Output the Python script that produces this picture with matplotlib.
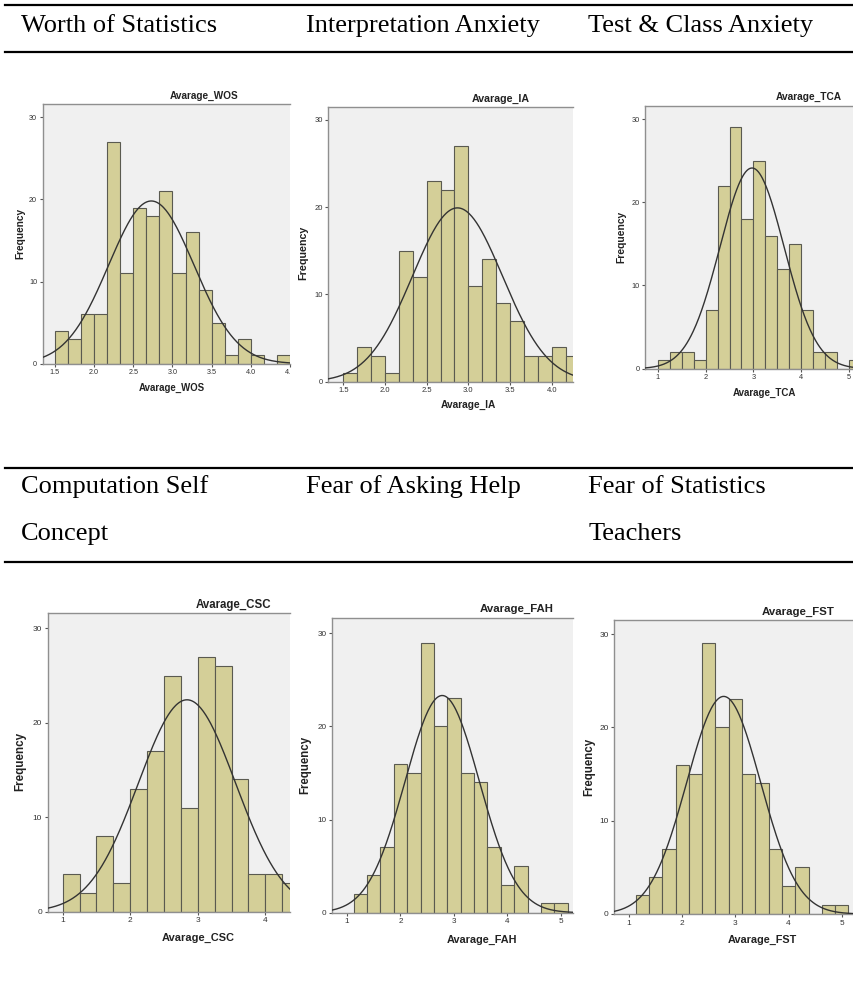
"""Histograms of six statistics-anxiety subscales with fitted normal curves."""

import numpy as np
import matplotlib
matplotlib.use("Agg")
import matplotlib.pyplot as plt
from matplotlib.transforms import Bbox

W, H = 854, 1007

# header cells of the table (row 1 and row 2, possibly wrapped)
headers_row1 = ["Worth of Statistics", "Interpretation Anxiety", "Test & Class Anxiety"]
headers_row2 = [["Computation Self", "Concept"], ["Fear of Asking Help"],
                ["Fear of Statistics", "Teachers"]]

names = ["Avarage_WOS", "Avarage_IA", "Avarage_TCA",
         "Avarage_CSC", "Avarage_FAH", "Avarage_FST"]

# bar heights
wos_counts = [4, 3, 6, 6, 27, 11, 19, 18, 21, 11, 16, 9, 5, 1, 3, 1, 0, 1]
ia_counts = [1, 4, 3, 1, 15, 12, 23, 22, 27, 11, 14, 9, 7, 3, 3, 4, 3]
tca_counts = [1, 2, 2, 1, 7, 22, 29, 18, 25, 16, 12, 15, 7, 2, 2, 0, 1]
csc_counts = [4, 2, 8, 3, 13, 17, 25, 11, 27, 26, 14, 4, 4, 3]
fah_counts = [2, 4, 7, 16, 15, 29, 20, 23, 15, 14, 7, 3, 5, 0, 1, 1]
fst_counts = [2, 4, 7, 16, 15, 29, 20, 23, 15, 14, 7, 3, 5, 0, 1, 1]
all_counts = [wos_counts, ia_counts, tca_counts, csc_counts, fah_counts, fst_counts]

bin_start = [1.5, 1.5, 1.0, 1.0, 1.125, 1.125]
bin_width = [1 / 6, 1 / 6, 0.25, 0.25, 0.25, 0.25]

# fitted normal curve parameters
means = [2.73, 2.87, 2.97, 2.84, 2.78, 2.78]
sds = [0.544, 0.541, 0.67, 0.72, 0.693, 0.693]
n_cases = 162

x_ticks = [[1.5, 2.0, 2.5, 3.0, 3.5, 4.0, 4.5],
           [1.5, 2.0, 2.5, 3.0, 3.5, 4.0],
           [1, 2, 3, 4, 5],
           [1, 2, 3, 4],
           [1, 2, 3, 4, 5],
           [1, 2, 3, 4, 5]]
x_ticklabels = [["1.5", "2.0", "2.5", "3.0", "3.5", "4.0", "4.5"],
                ["1.5", "2.0", "2.5", "3.0", "3.5", "4.0"],
                ["1", "2", "3", "4", "5"],
                ["1", "2", "3", "4"],
                ["1", "2", "3", "4", "5"],
                ["1", "2", "3", "4", "5"]]
y_ticks = [0, 10, 20, 30]

# layout in pixels: axes box, x range, title / xlabel / ylabel anchors
boxes = [(42.7, 104, 290, 363.7), (328.3, 106.7, 573.3, 381.7), (645, 105.7, 854, 368.7),
         (47.7, 613.3, 290, 911.7), (332.3, 618.3, 572.7, 912.7), (614.3, 620, 854, 914)]
xlims = [(1.344, 4.5), (1.32, 4.26), (0.735, 5.1),
         (0.778, 4.365), (0.725, 5.22), (0.724, 5.23)]
ytops = [31.6, 31.5, 31.6, 31.6, 31.6, 31.5]
title_pos = [(204, 96), (500.7, 99.3), (809, 97.3), (233.3, 605), (516.7, 609), (797.7, 611.7)]
xlabel_pos = [(172, 388), (468.3, 405), (764.3, 393.3), (198.3, 938.3), (481.7, 940), (762.3, 940)]
ylabel_pos = [(20, 233), (303.3, 253), (621.7, 236.7), (20.7, 761.7), (305, 765), (589, 766.7)]

BAR = "#d4cf98"
EDGE = "#5a5a50"
BG = "#f0f0f0"
SPINE = "#8f8f8f"


def fx(x):
    return x / W


def fy(y):
    return 1 - y / H


fig = plt.figure(figsize=(W / 100, H / 100), dpi=100)
fig.patch.set_facecolor("white")

serif = "Liberation Serif"
sans = "Liberation Sans"

# table rules
for y in [5, 52, 468, 562]:
    fig.add_artist(plt.Line2D([fx(5), fx(854)], [fy(y), fy(y)], color="black", lw=1.6))

col_x = [20.7, 306, 588.3]
for x, txt in zip(col_x, headers_row1):
    fig.text(fx(x), fy(32.3), txt, family=serif, fontsize=19, va="baseline", ha="left")
for x, lines in zip(col_x, headers_row2):
    for i, txt in enumerate(lines):
        fig.text(fx(x), fy(493.3 + 46.3 * i), txt, family=serif, fontsize=19,
                 va="baseline", ha="left")

for k in range(6):
    left, top, right, bottom = boxes[k]
    ax = fig.add_axes([fx(left), fy(bottom), (right - left) / W, (bottom - top) / H])
    ax.set_facecolor(BG)
    x0, x1 = xlims[k]
    ax.set_xlim(x0, x1)
    ax.set_ylim(0, ytops[k])
    scale = (bottom - top) / ytops[k] / 8.21

    counts = all_counts[k]
    edges = [bin_start[k] + i * bin_width[k] for i in range(len(counts))]
    ax.bar(edges, counts, width=bin_width[k], align="edge", color=BAR,
           edgecolor=EDGE, linewidth=0.8, zorder=2)

    xs = np.linspace(x0, x1, 300)
    pdf = np.exp(-0.5 * ((xs - means[k]) / sds[k]) ** 2) / (sds[k] * np.sqrt(2 * np.pi))
    ax.plot(xs, n_cases * bin_width[k] * pdf, color="#333333", lw=1.0, zorder=3)

    for side in ["left", "top", "bottom"]:
        ax.spines[side].set_color(SPINE)
        ax.spines[side].set_linewidth(1.0)
    ax.spines["right"].set_visible(False)

    ax.set_xticks(x_ticks[k])
    ax.set_xticklabels(x_ticklabels[k])
    ax.set_yticks(y_ticks)
    ax.tick_params(axis="both", direction="out", length=2.5, width=0.8, color="#555555",
                   labelsize=5.2 * scale, labelcolor="#333333", pad=1.5)
    for lbl in ax.get_xticklabels() + ax.get_yticklabels():
        lbl.set_family(sans)
        lbl.set_clip_on(True)
        lbl.set_clip_box(Bbox.from_extents(left - 40, H - bottom - 30, right, H - top + 5))

    tx, ty = title_pos[k]
    fig.text(fx(tx), fy(ty), names[k], family=sans, fontweight="bold",
             fontsize=7.2 * scale, ha="center", va="center", color="#222222")
    lx, ly = xlabel_pos[k]
    fig.text(fx(lx), fy(ly), names[k], family=sans, fontweight="bold",
             fontsize=6.9 * scale, ha="center", va="center", color="#222222")
    yx, yy = ylabel_pos[k]
    fig.text(fx(yx), fy(yy), "Frequency", family=sans, fontweight="bold",
             fontsize=7.3 * scale, ha="center", va="center", rotation=90, color="#222222")

fig.savefig("out.png", dpi=100)
plt.close(fig)
